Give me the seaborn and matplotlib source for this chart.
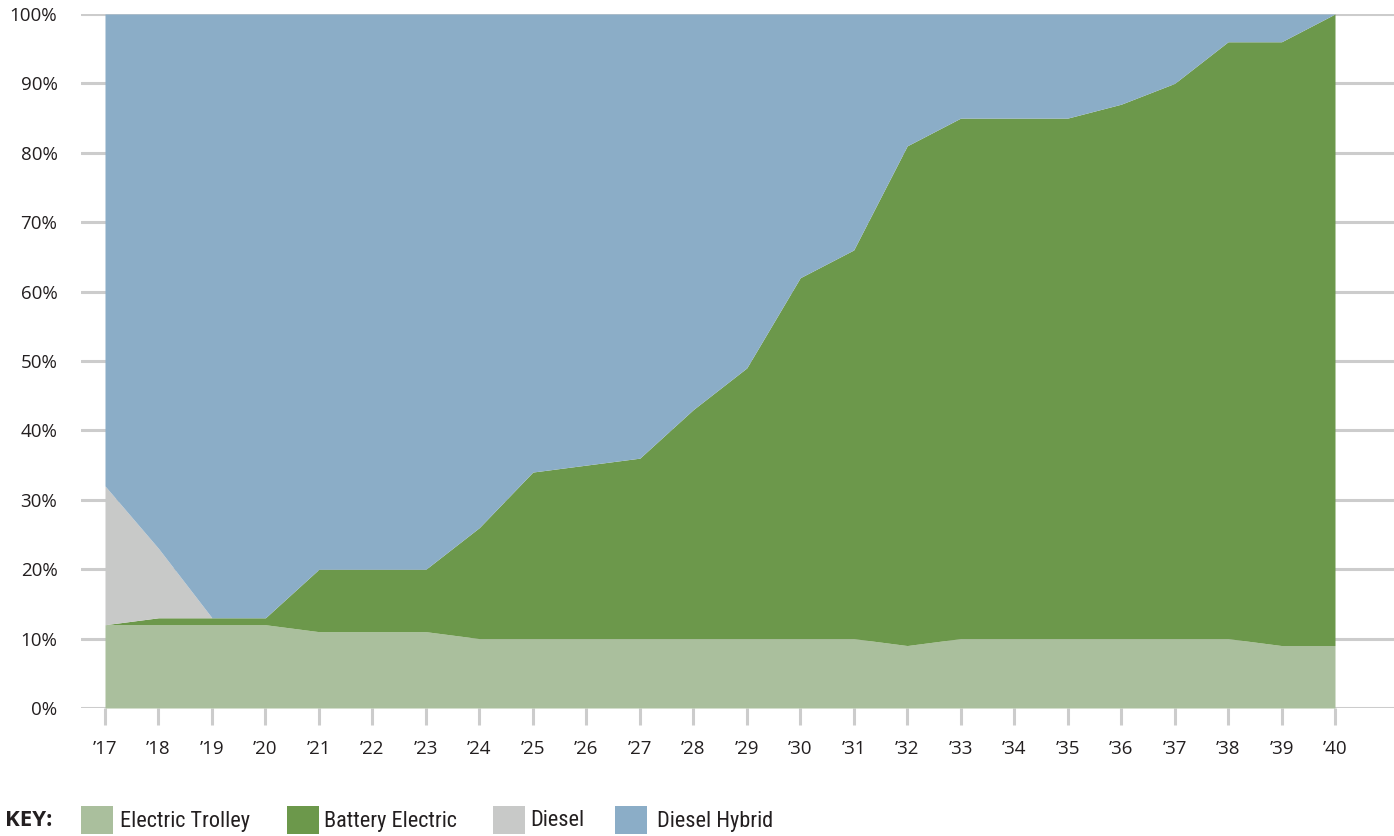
import numpy as np
import pandas as pd
import matplotlib
matplotlib.use("Agg")
import matplotlib.pyplot as plt
from matplotlib import font_manager
from matplotlib.patches import Rectangle
import seaborn as sns


# DATA (percent of fleet)

years = list(range(2017, 2041))
year_labels = ["\u2019" + str(y)[2:] for y in years]

electric_trolley = [12, 12, 12, 12, 11, 11, 11, 10, 10, 10, 10, 10, 10, 10, 10, 9,
                    10, 10, 10, 10, 10, 10, 9, 9]
# cumulative top edge of the battery electric band
battery_top = [12, 13, 13, 13, 20, 20, 20, 26, 34, 35, 36, 43, 49, 62, 66, 81,
               85, 85, 85, 87, 90, 96, 96, 100]
# cumulative top edge of the diesel band
diesel_top = [32, 23, 13, 13, 20, 20, 20, 26, 34, 35, 36, 43, 49, 62, 66, 81,
              85, 85, 85, 87, 90, 96, 96, 100]

df = pd.DataFrame({"year": years, "Electric Trolley": electric_trolley})
df["Battery Electric"] = np.array(battery_top) - np.array(electric_trolley)
df["Diesel"] = np.array(diesel_top) - np.array(battery_top)
df["Diesel Hybrid"] = 100 - np.array(diesel_top)

series = ["Electric Trolley", "Battery Electric", "Diesel", "Diesel Hybrid"]
colors = ["#aabf9d", "#6c984b", "#c8c9c8", "#8badc7"]


# FONTS

installed = {f.name for f in font_manager.fontManager.ttflist}
narrow = next((f for f in ["Liberation Sans Narrow", "Roboto Condensed", "Open Sans"]
               if f in installed), "DejaVu Sans")


# PLOT

sns.set_style("white")
plt.rcParams["font.family"] = ["Open Sans", "DejaVu Sans"]

fig = plt.figure(figsize=(13.94, 8.36), dpi=100)
W, H = 1394, 836
x0, x1 = 81, 1394
ax = fig.add_axes([x0 / W, 1 - 708 / H, (x1 - x0) / W, (708 - 14) / H])

ax.stackplot(df["year"], *[df[s] for s in series], colors=colors, labels=series,
             linewidth=0, zorder=2)

px_per_year = (1335 - 105) / 23
ax.set_xlim(2017 - (105 - x0) / px_per_year, 2040 + (x1 - 1335) / px_per_year)
ax.set_ylim(0, 100)

ax.set_yticks(range(0, 101, 10))
ax.set_yticklabels([f"{v}%" for v in range(0, 101, 10)])
ax.set_xticks(years)
ax.set_xticklabels(year_labels)

ax.yaxis.grid(True, color="#cccccc", linewidth=2.2, zorder=1)
ax.set_axisbelow(True)
for sp in ax.spines.values():
    sp.set_visible(False)

ax.tick_params(axis="y", length=0, pad=17, labelsize=13.5, labelcolor="#231f20")
ax.tick_params(axis="x", length=12, width=2.2, color="#cccccc", pad=11,
               labelsize=13.5, labelcolor="#231f20", bottom=True)

# legend, laid out by hand like the printed key
fig.text(5 / W, 1 - 821 / H, "KEY:", fontsize=16, fontweight="bold",
         family=["Open Sans", "DejaVu Sans"], color="#231f20", va="center", ha="left")
patch_x = [81, 287, 493, 615]
text_x = [120, 324, 530, 657]
for px, tx, c, name in zip(patch_x, text_x, colors, series):
    fig.add_artist(Rectangle((px / W, 1 - 834 / H), 32 / W, 28 / H,
                             transform=fig.transFigure, facecolor=c,
                             edgecolor="none"))
    fig.text(tx / W, 1 - 821 / H, name, fontsize=16, family=[narrow, "DejaVu Sans"],
             color="#231f20", va="center", ha="left")

fig.savefig("out.png", dpi=100)
